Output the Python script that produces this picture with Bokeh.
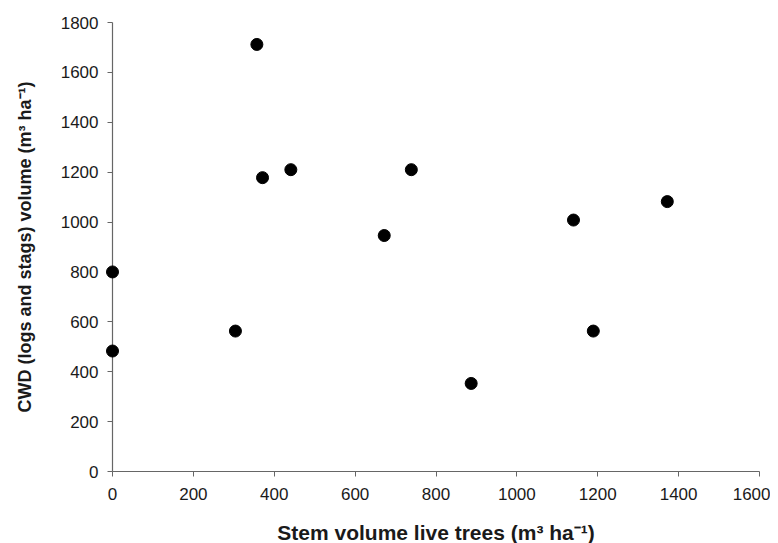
from bokeh.plotting import figure
from bokeh.models import Range1d, FixedTicker, ColumnDataSource
from bokeh.embed import file_html
from bokeh.resources import INLINE

# Data
stem_volume = [0, 0, 304, 357, 371, 441, 672, 739, 887, 1140, 1189, 1372]
cwd_volume = [800, 483, 563, 1712, 1178, 1210, 946, 1210, 353, 1008, 563, 1082]

x_ticks = [0, 200, 400, 600, 800, 1000, 1200, 1400, 1600]
y_ticks = [0, 200, 400, 600, 800, 1000, 1200, 1400, 1600, 1800]

src = ColumnDataSource(dict(x=stem_volume, y=cwd_volume))

p = figure(width=770, height=552, output_backend="svg", toolbar_location=None,
           x_range=Range1d(0, 1600), y_range=Range1d(0, 1800),
           min_border_left=112, min_border_right=11, min_border_top=22, min_border_bottom=81)
p.outline_line_color = None
p.grid.grid_line_color = None

r = p.scatter("x", "y", source=src, size=12, color="black")
r.level = "overlay"

font = "Liberation Sans"
for ax, ticks in ((p.xaxis, x_ticks), (p.yaxis, y_ticks)):
    ax.ticker = FixedTicker(ticks=ticks)
    ax.axis_line_color = "#666666"
    ax.axis_line_width = 1.2
    ax.major_tick_line_color = "#666666"
    ax.major_tick_in = 0
    ax.major_tick_out = 5
    ax.minor_tick_line_color = None
    ax.major_label_text_font = font
    ax.major_label_text_font_size = "17px"
    ax.major_label_text_color = "#1a1a1a"
    ax.axis_label_text_font = font
    ax.axis_label_text_color = "#1a1a1a"
    ax.axis_label_text_font_style = "bold"

p.xaxis.axis_label = "Stem volume live trees (m³ ha⁻¹)"
p.xaxis.axis_label_text_font_size = "21px"
p.yaxis.axis_label = "CWD (logs and stags) volume (m³ ha⁻¹)"
p.yaxis.axis_label_text_font_size = "18px"
p.xaxis.major_label_standoff = 11
p.yaxis.major_label_standoff = 9
p.xaxis.axis_label_standoff = 18
p.yaxis.axis_label_standoff = 23

open("out.html", "w").write(file_html(p, INLINE))
